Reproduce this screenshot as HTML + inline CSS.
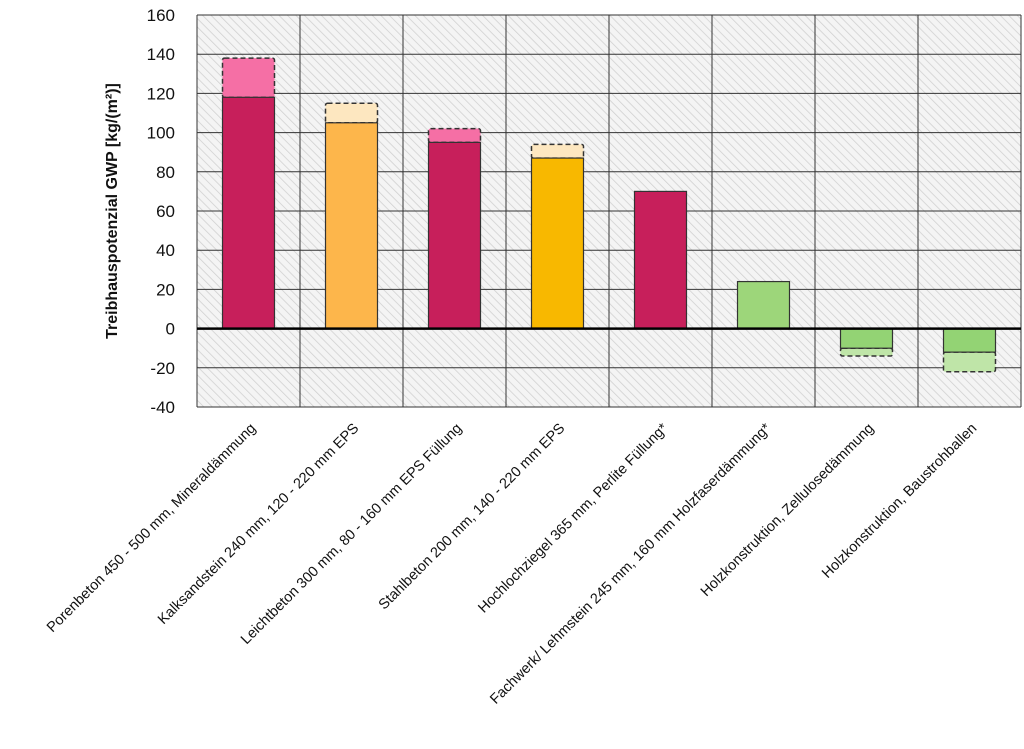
<!DOCTYPE html>
<html><head><meta charset="utf-8"><style>
body{margin:0;background:#fff;}
svg text{font-family:"Liberation Sans",sans-serif;}
</style></head><body>
<svg width="1024" height="744" xmlns="http://www.w3.org/2000/svg">
<defs>
<pattern id="hatch" width="6" height="6" patternUnits="userSpaceOnUse" patternTransform="rotate(-45)">
<rect width="6" height="6" fill="#f4f4f4"/><line x1="0" y1="0" x2="0" y2="6" stroke="#cfcfcf" stroke-width="1.5"/>
</pattern>
</defs>
<g id="plot"></g>
</svg>
<script>
const categories=["Porenbeton 450 - 500 mm, Mineraldämmung","Kalksandstein 240 mm, 120 - 220 mm EPS","Leichtbeton 300 mm, 80 - 160 mm EPS Füllung","Stahlbeton 200 mm, 140 - 220 mm EPS","Hochlochziegel 365 mm, Perlite Füllung*","Fachwerk/ Lehmstein 245 mm, 160 mm Holzfaserdämmung*","Holzkonstruktion, Zellulosedämmung","Holzkonstruktion, Baustrohballen"];
const baseValues=[118,105,95,87,70,24,-10,-12];
const rangeValues=[138,115,102,94,70,24,-14,-22];
const baseColors=["#c71f5b","#fdb64b","#c71f5b","#f8b800","#c71f5b","#9dd67a","#93d374","#93d374"];
const rangeColors=["#f56fa5","#fde7c0","#f56fa5","#fde7c0","#f56fa5","#9dd67a","#bfe5a8","#bfe5a8"];
const yTicks=[160,140,120,100,80,60,40,20,0,-20,-40];
const NS="http://www.w3.org/2000/svg";
const g=document.getElementById('plot');
const x0=197,x1=1021,yTop=15,yBot=407,vMax=160,vMin=-40;
const y=v=>yTop+(vMax-v)*(yBot-yTop)/(vMax-vMin);
const bw=(x1-x0)/categories.length;
const xc=i=>x0+bw*(i+0.5);
function el(t,a){const e=document.createElementNS(NS,t);for(const k in a)e.setAttribute(k,a[k]);g.appendChild(e);return e;}
const bg=el('rect',{x:x0,y:yTop,width:x1-x0,height:yBot-yTop,fill:'url(#hatch)'});


yTicks.forEach(t=>{
 const l=el('line',{x1:x0,x2:x1,y1:y(t),y2:y(t),stroke:'#333','stroke-width':1});
 
 
 const tx=el('text',{x:x0-22,y:y(t)+6,'text-anchor':'end','font-size':17,fill:'#111'});
 tx.textContent=t;
 
 
});
for(let i=0;i<=categories.length;i++){
 const l=el('line',{x1:x0+bw*i,x2:x0+bw*i,y1:yTop,y2:yBot,stroke:'#333','stroke-width':1});
 
 
}
categories.forEach((c,i)=>{
 const w=52,bx=xc(i)-w/2;
 const b=baseValues[i],r=rangeValues[i];
 if(r!==b){
  const ry=Math.min(y(r),y(b)),rh=Math.abs(y(r)-y(b));
  const rr=el('rect',{x:bx,y:ry,width:w,height:rh,fill:rangeColors[i],stroke:'#333','stroke-width':1.5,'stroke-dasharray':'5,3',rx:2});
  
  
 }
 const by=Math.min(y(b),y(0)),bh=Math.abs(y(b)-y(0));
 const br=el('rect',{x:bx,y:by,width:w,height:bh,fill:baseColors[i],stroke:'#333','stroke-width':1.2});
 
 
 const cx=xc(i),ty=yBot+22;
 const t=el('text',{x:cx+8,y:ty,'text-anchor':'end','font-size':14.5,fill:'#111',transform:`rotate(-45 ${cx+8} ${ty})`});
 t.textContent=c;
 
 
});
const z=el('line',{x1:x0,x2:x1,y1:y(0),y2:y(0),stroke:'#000','stroke-width':2.5});


const yt=el('text',{x:0,y:0,'text-anchor':'middle','font-size':16,'font-weight':'bold',fill:'#111',transform:`translate(117 ${y(60)}) rotate(-90)`});
yt.textContent='Treibhauspotenzial GWP [kg/(m²)]';


</script>
</body></html>
